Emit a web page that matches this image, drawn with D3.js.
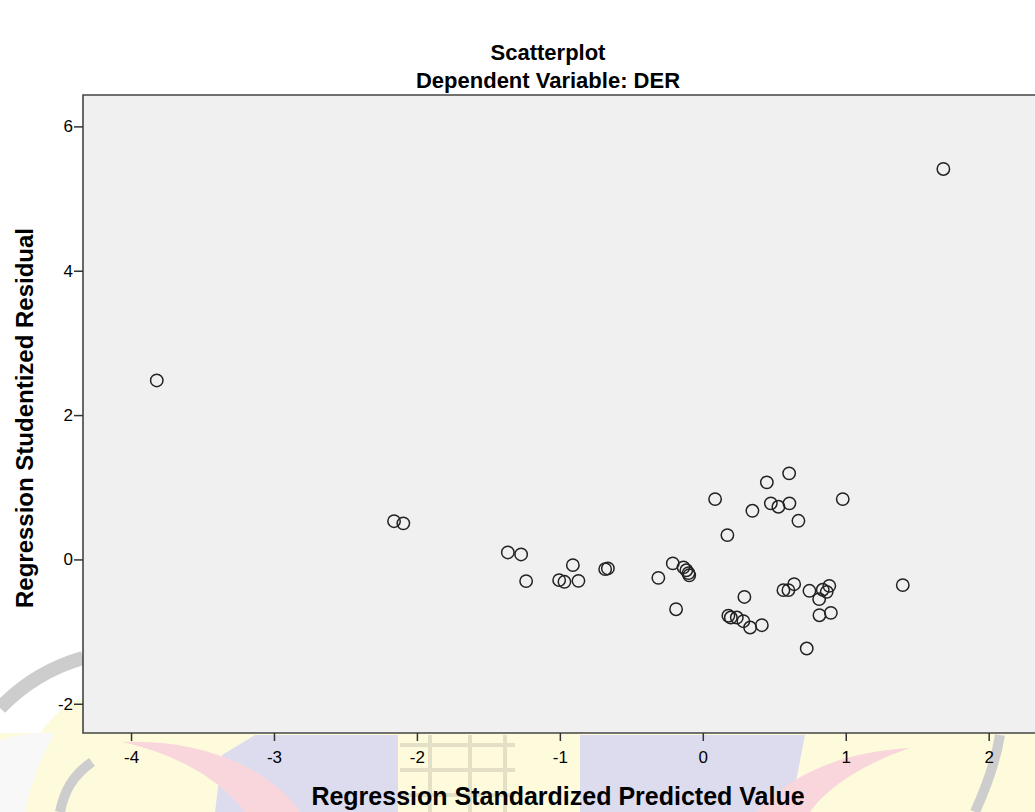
<!DOCTYPE html>
<html>
<head>
<meta charset="utf-8">
<script src="https://cdn.jsdelivr.net/npm/d3@7"></script>
<style>
  html, body { margin: 0; padding: 0; background: #fff; overflow: hidden; }
  svg { display: block; }
  text { font-family: "Liberation Sans", Arial, sans-serif; fill: #000; }
  .title { font-size: 22px; font-weight: bold; }
  .axis-label { font-size: 25px; font-weight: bold; }
  .axis-label.y { font-size: 24px; }
  .tick text { font-size: 17px; }
</style>
</head>
<body>
<svg width="1035" height="812"></svg>
<script>
// regression standardized predicted value (x) and studentized residual (y)
const predicted = [
  -3.82, -2.16, -2.095, -1.364, -1.271, -1.236, -1.005, -0.968, -0.909, -0.87,
  -0.683, -0.664, -0.311, -0.21, -0.187, -0.135, -0.115, -0.10, -0.095, 0.086,
  0.172, 0.291, 0.179, 0.196, 0.238, 0.284, 0.331, 0.413, 0.347, 0.448,
  0.476, 0.529, 0.606, 0.604, 0.669, 0.979, 0.564, 0.599, 0.639, 0.746,
  0.814, 0.839, 0.867, 0.885, 0.816, 0.896, 0.727, 1.399, 1.683
];
const residual = [
  2.48, 0.53, 0.50, 0.097, 0.069, -0.30, -0.287, -0.31, -0.079, -0.297,
  -0.135, -0.125, -0.255, -0.055, -0.69, -0.11, -0.15, -0.19, -0.22, 0.836,
  0.337, -0.52, -0.78, -0.805, -0.805, -0.856, -0.943, -0.911, 0.674, 1.068,
  0.777, 0.73, 0.777, 1.193, 0.535, 0.836, -0.426, -0.426, -0.343, -0.435,
  -0.55, -0.42, -0.449, -0.366, -0.773, -0.74, -1.234, -0.356, 5.41
];
const xTicks = [-4, -3, -2, -1, 0, 1, 2];
const yTicks = [-2, 0, 2, 4, 6];

const svg = d3.select('svg');
const width = +svg.attr('width');
const height = +svg.attr('height');

// faint logo watermark behind the chart
const wm = svg.append('g');
wm.append('path').attr('d', 'M40,733 C55,712 70,702 83,698 L83,733 Z').attr('fill', '#fdfbdc');
wm.append('rect').attr('x', 0).attr('y', 733).attr('width', width).attr('height', 79).attr('fill', '#fdfbdc');
wm.append('path').attr('d', 'M0,740 C20,734 40,732 55,733 C40,760 30,785 25,812 L0,812 Z').attr('fill', '#f8f8f8');
wm.append('path').attr('d', 'M215,812 L222,755 L255,735 L398,735 L398,812 Z M580,812 L580,735 L805,735 L790,812 Z').attr('fill', '#dddcee');
wm.append('g').attr('stroke', '#e4e0c8').attr('stroke-width', 4).attr('fill', 'none')
  .append('path').attr('d', 'M400,745 H515 M400,770 H515 M400,795 H515 M430,735 V812 M470,735 V812 M505,735 V812');
wm.append('path').attr('d', 'M122,742 C200,738 270,768 300,812 L245,812 C220,780 180,755 122,742 Z').attr('fill', '#f9d6dc');
wm.append('path').attr('d', 'M756,812 C790,775 840,752 910,748 C860,765 825,790 810,812 Z').attr('fill', '#f9d6dc');
wm.append('g').attr('fill', 'none').attr('stroke', '#cdcdcd')
  .selectAll('path').data([
    ['M0,708 C25,682 55,666 83,658', 14],
    ['M60,812 C64,792 72,776 92,762', 10],
    ['M1000,735 C995,765 985,790 975,812', 10]
  ]).enter().append('path')
    .attr('d', d => d[0])
    .attr('stroke-width', d => d[1]);

const margin = { top: 95, right: 0, bottom: 79, left: 83 };
const innerWidth = width - margin.left - margin.right;
const innerHeight = height - margin.top - margin.bottom;

const xScale = d3.scaleLinear()
  .domain([-4.336, 2.324])
  .range([0, innerWidth]);

const yScale = d3.scaleLinear()
  .domain([-2.405, 6.435])
  .range([innerHeight, 0]);

const g = svg.append('g')
  .attr('transform', `translate(${margin.left},${margin.top})`);

// plot background and frame (right side runs off the picture)
g.append('rect')
  .attr('width', innerWidth)
  .attr('height', innerHeight)
  .attr('fill', '#f0f0f0');

g.append('path')
  .attr('d', `M${innerWidth},0 H0 V${innerHeight} H${innerWidth}`)
  .attr('fill', 'none')
  .attr('stroke', '#444')
  .attr('stroke-width', 1.6);

const fmt = d => String(d);

const xAxis = d3.axisBottom(xScale)
  .tickValues(xTicks)
  .tickSize(8)
  .tickPadding(10)
  .tickFormat(fmt);

const yAxis = d3.axisLeft(yScale)
  .tickValues(yTicks)
  .tickSize(9)
  .tickPadding(1)
  .tickFormat(fmt);

const yAxisG = g.append('g').call(yAxis);
yAxisG.select('.domain').remove();
yAxisG.selectAll('.tick line').attr('stroke', '#333').attr('stroke-width', 1.5);

const xAxisG = g.append('g').call(xAxis)
  .attr('transform', `translate(0,${innerHeight})`);
xAxisG.select('.domain').remove();
xAxisG.selectAll('.tick line').attr('stroke', '#333').attr('stroke-width', 1.5);

svg.selectAll('.tick text').attr('fill', '#000');

// data points
const data = predicted.map((x, i) => ({ x, y: residual[i] }));
g.selectAll('circle.pt').data(data)
  .enter().append('circle')
    .attr('class', 'pt')
    .attr('cx', d => xScale(d.x))
    .attr('cy', d => yScale(d.y))
    .attr('r', 6.2)
    .attr('fill', 'none')
    .attr('stroke', '#222')
    .attr('stroke-width', 1.5);

// titles
svg.append('text')
  .attr('class', 'title')
  .attr('x', 548)
  .attr('y', 60)
  .attr('text-anchor', 'middle')
  .text('Scatterplot');

svg.append('text')
  .attr('class', 'title')
  .attr('x', 548)
  .attr('y', 88)
  .attr('text-anchor', 'middle')
  .text('Dependent Variable: DER');

svg.append('text')
  .attr('class', 'axis-label')
  .attr('x', 558)
  .attr('y', 805)
  .attr('text-anchor', 'middle')
  .text('Regression Standardized Predicted Value');

svg.append('text')
  .attr('class', 'axis-label y')
  .attr('transform', 'translate(33,418) rotate(-90)')
  .attr('text-anchor', 'middle')
  .text('Regression Studentized Residual');
</script>
</body>
</html>
